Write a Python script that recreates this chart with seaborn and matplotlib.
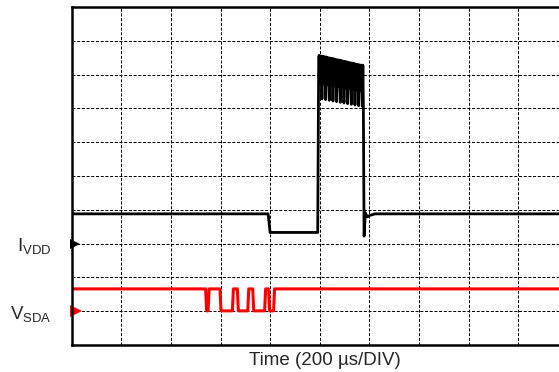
import numpy as np
import pandas as pd
import matplotlib
matplotlib.use("Agg")
import matplotlib.pyplot as plt
import matplotlib.transforms as mtransforms
import seaborn as sns

# time axis in divisions (200 us / DIV), amplitude in divisions
IVDD_T = [0.0, 3.96, 4.00, 4.96, 4.98]
IVDD_V = [3.88, 3.88, 3.33, 3.33, 8.50]
BURST_T = [4.990, 5.008, 5.027, 5.045, 5.064, 5.082, 5.101, 5.119, 5.138, 5.156,
           5.175, 5.193, 5.212, 5.230, 5.249, 5.267, 5.286, 5.304, 5.323, 5.341,
           5.360, 5.378, 5.397, 5.415, 5.434, 5.452, 5.471, 5.489, 5.508, 5.526,
           5.545, 5.563, 5.582, 5.600, 5.619, 5.637, 5.656, 5.674, 5.693, 5.711,
           5.730, 5.748, 5.767, 5.785, 5.804, 5.822, 5.841, 5.859, 5.870]
BURST_V = [8.57, 7.75, 8.55, 7.28, 8.54, 7.73, 8.53, 7.26,
           8.52, 7.71, 8.50, 7.24, 8.49, 7.69, 8.48, 7.22,
           8.47, 7.67, 8.45, 7.20, 8.44, 7.65, 8.43, 7.18,
           8.42, 7.63, 8.40, 7.16, 8.39, 7.61, 8.38, 7.14,
           8.36, 7.59, 8.35, 7.12, 8.34, 7.57, 8.33, 7.10,
           8.31, 7.55, 8.30, 7.08, 8.29, 7.53, 8.28, 7.06,
           8.28]
TAIL_T = [5.88, 5.895, 5.92, 5.96, 6.02, 6.12, 10.0]
TAIL_V = [7.10, 3.22, 3.91, 3.79, 3.84, 3.88, 3.88]

HI, LO = 1.66, 1.01
SDA_T = [0.0, 2.70, 2.72, 2.75, 2.77, 2.99, 3.01, 3.24, 3.26, 3.34, 3.36,
         3.55, 3.57, 3.65, 3.67, 3.89, 3.91, 3.97, 3.99, 4.07, 4.09, 10.0]
SDA_V = [HI, HI, LO, LO, HI, HI, LO, LO, HI, HI, LO,
         LO, HI, HI, LO, LO, HI, HI, LO, LO, HI, HI]

CHANNELS = ["I_VDD", "V_SDA"]
CH_LEVEL = [3.0, 1.0]

sns.set_style("white")
plt.rcParams["font.family"] = ["Liberation Sans", "DejaVu Sans"]
plt.rcParams["mathtext.fontset"] = "custom"
plt.rcParams["mathtext.rm"] = "Liberation Sans"
plt.rcParams["mathtext.it"] = "Liberation Sans"

df_i = pd.DataFrame({"t": IVDD_T + BURST_T + TAIL_T, "v": IVDD_V + BURST_V + TAIL_V})
df_s = pd.DataFrame({"t": SDA_T, "v": SDA_V})

fig = plt.figure(figsize=(5.59, 3.72), dpi=100)
ax = fig.add_axes([71.7 / 559, 27 / 372, 496 / 559, 338 / 372])

sns.lineplot(data=df_s, x="t", y="v", ax=ax, color="#ff0000", lw=2.2,
             estimator=None, sort=False)
sns.lineplot(data=df_i, x="t", y="v", ax=ax, color="black", lw=2.0,
             estimator=None, sort=False)

ax.set_xlim(0, 10)
ax.set_ylim(0, 10)
ax.set_xticks(np.arange(0, 11))
ax.set_yticks(np.arange(0, 11))
ax.tick_params(length=0, labelbottom=False, labelleft=False)
ax.grid(True, color="black", lw=0.72, linestyle=(0, (3, 1.7)))
ax.set_axisbelow(True)
for side in ["top", "left", "bottom", "right"]:
    ax.spines[side].set_color("black")
    ax.spines[side].set_linewidth(1.8)

ax.set_ylabel("")
ax.set_xlabel("Time (200 \u00b5s/DIV)", fontsize=13.5, labelpad=2)
ax.xaxis.set_label_coords(0.51, -0.02)
ax.xaxis.label.set_va("top")

trans = mtransforms.blended_transform_factory(ax.transAxes, ax.transData)
ax.text(-0.041, 2.78, r"$\mathregular{I_{VDD}}$", transform=trans, ha="right",
        va="baseline", fontsize=13.5)
ax.text(-0.041, 0.77, r"$\mathregular{V_{SDA}}$", transform=trans, ha="right",
        va="baseline", fontsize=13.5)
ax.plot([0.0075], [CH_LEVEL[0]], marker=">", ms=7, color="black", mew=0,
        transform=trans, clip_on=False)
ax.plot([0.0085], [CH_LEVEL[1]], marker=">", ms=9, color="#ff0000", mew=0,
        transform=trans, clip_on=False)

fig.savefig("out.png", dpi=100)
